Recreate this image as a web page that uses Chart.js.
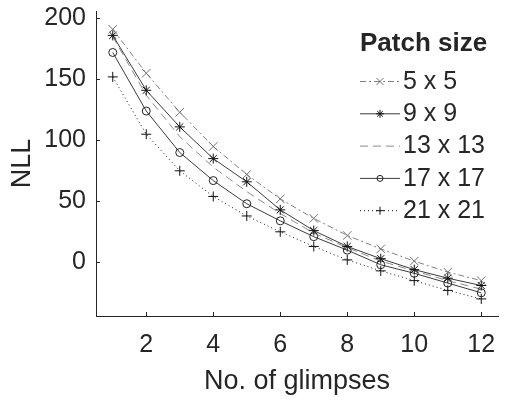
<!DOCTYPE html>
<html>
<head>
<meta charset="utf-8">
<script src="https://cdn.jsdelivr.net/npm/chart.js@4/dist/chart.umd.min.js"></script>
<style>
  body { margin: 0; background: #fff; }
  canvas { display: block; }
</style>
</head>
<body>
<canvas id="chart" width="505" height="403"></canvas>
<script>
// values
const glimpses = [1, 2, 3, 4, 5, 6, 7, 8, 9, 10, 11, 12];
const xTicks = [2, 4, 6, 8, 10, 12];
const yTicks = [0, 50, 100, 150, 200];
const patchSizes = ["5 x 5", "9 x 9", "13 x 13", "17 x 17", "21 x 21"];

const nll5 = [191, 155, 123, 95, 72, 52, 36, 22, 11, 1, -8, -15];
const nll9 = [186, 141, 111, 85, 66, 43, 26, 13, 3, -6, -13, -19];
const nll13 = [185, 137, 103, 78, 58, 40, 24, 12, 1, -7, -15, -22];
const nll17 = [172, 124, 90, 67, 48, 34, 21, 10, -2, -9, -17, -25];
const nll21 = [152, 105, 75, 54, 38, 25, 13, 2, -7, -15, -23, -30];

const TEXT = "#262626";
const FONT = "'Liberation Sans', Arial, Helvetica, sans-serif";

const toPoints = vals => glimpses.map((g, i) => ({ x: g, y: vals[i] }));

const styles = [
  { color: "#808080", dash: [6, 3, 2, 3], marker: "crossRot", radius: 6, markerColor: "#707070" },
  { color: "#3c3c3c", dash: [], marker: "star", radius: 5, markerColor: "#111" },
  { color: "#8a8a8a", dash: [8, 5], marker: false, radius: 0, markerColor: "#8a8a8a" },
  { color: "#3c3c3c", dash: [], marker: "circle", radius: 4, markerColor: "#222" },
  { color: "#1a1a1a", dash: [1, 3], marker: "cross", radius: 5, markerColor: "#111" }
];

const series = [nll5, nll9, nll13, nll17, nll21];

const datasets = series.map((vals, i) => ({
  label: patchSizes[i],
  data: toPoints(vals),
  borderColor: styles[i].color,
  borderWidth: 1,
  borderDash: styles[i].dash,
  backgroundColor: "rgba(0,0,0,0)",
  pointStyle: styles[i].marker,
  pointRadius: styles[i].radius,
  pointBorderColor: styles[i].markerColor,
  pointBorderWidth: 1,
  pointBackgroundColor: "rgba(0,0,0,0)",
  tension: 0,
  fill: false
}));

// MATLAB style tick marks pointing into the plot
const innerTicks = {
  id: "innerTicks",
  afterDraw(chart) {
    const { ctx, chartArea } = chart;
    const xs = chart.scales.x, ys = chart.scales.y;
    ctx.save();
    ctx.strokeStyle = TEXT;
    ctx.lineWidth = 1;
    ctx.beginPath();
    xs.ticks.forEach(t => {
      const px = Math.round(xs.getPixelForValue(t.value)) + 0.5;
      ctx.moveTo(px, chartArea.bottom);
      ctx.lineTo(px, chartArea.bottom - 4);
    });
    ys.ticks.forEach(t => {
      const py = Math.round(ys.getPixelForValue(t.value)) + 0.5;
      ctx.moveTo(chartArea.left, py);
      ctx.lineTo(chartArea.left + 4, py);
    });
    ctx.stroke();
    ctx.restore();
  }
};

// legend drawn inside the axes, line sample with marker in the middle
const insideLegend = {
  id: "insideLegend",
  afterDraw(chart, args, opts) {
    const { ctx } = chart;
    ctx.save();
    ctx.fillStyle = TEXT;
    ctx.textBaseline = "middle";
    ctx.font = "bold 26px " + FONT;
    ctx.textAlign = "left";
    ctx.fillText(opts.title, opts.titleX, opts.titleY);
    ctx.font = "25px " + FONT;
    chart.data.datasets.forEach((ds, i) => {
      const y = opts.y0 + i * opts.rowGap;
      ctx.save();
      ctx.strokeStyle = ds.borderColor;
      ctx.lineWidth = 1;
      ctx.setLineDash(ds.borderDash);
      ctx.beginPath();
      ctx.moveTo(opts.x0, y + 0.5);
      ctx.lineTo(opts.x0 + opts.sampleW, y + 0.5);
      ctx.stroke();
      ctx.restore();
      if (ds.pointStyle) {
        ctx.save();
        ctx.strokeStyle = ds.pointBorderColor;
        ctx.fillStyle = "rgba(0,0,0,0)";
        ctx.lineWidth = 1;
        Chart.helpers.drawPoint(ctx, {
          pointStyle: ds.pointStyle,
          radius: Math.max(3, ds.pointRadius - 1),
          rotation: 0,
          borderWidth: 1
        }, opts.x0 + opts.sampleW / 2, y + 0.5);
        ctx.restore();
      }
      ctx.fillStyle = TEXT;
      ctx.fillText(ds.label, opts.x0 + opts.sampleW + 3, y + 1);
    });
    ctx.restore();
  }
};

new Chart(document.getElementById("chart"), {
  type: "line",
  data: { datasets },
  plugins: [innerTicks, insideLegend],
  options: {
    responsive: false,
    animation: false,
    layout: { padding: { top: 11, left: 0, right: 0, bottom: 0 } },
    plugins: {
      legend: { display: false },
      tooltip: { enabled: false },
      insideLegend: {
        title: "Patch size",
        titleX: 360,
        titleY: 44,
        x0: 360,
        sampleW: 40,
        y0: 81,
        rowGap: 32.3
      }
    },
    scales: {
      x: {
        type: "linear",
        min: 0.5,
        max: 12.5,
        afterBuildTicks: scale => { scale.ticks = xTicks.map(v => ({ value: v })); },
        afterFit: scale => {
          scale.height = 87;
          scale.paddingLeft = 0;
          scale.paddingRight = 0;
        },
        grid: { display: true, drawOnChartArea: false, drawTicks: false },
        border: { display: true, color: TEXT, width: 1 },
        ticks: {
          color: TEXT,
          padding: 14,
          maxRotation: 0,
          font: { family: FONT, size: 25 }
        },
        title: {
          display: true,
          text: "No. of glimpses",
          color: TEXT,
          padding: { top: 0, bottom: 5 },
          font: { family: FONT, size: 27 }
        }
      },
      y: {
        type: "linear",
        min: -44,
        max: 206,
        afterBuildTicks: scale => { scale.ticks = yTicks.map(v => ({ value: v })); },
        afterFit: scale => {
          scale.width = 96;
          scale.paddingTop = 0;
          scale.paddingBottom = 0;
        },
        grid: { display: true, drawOnChartArea: false, drawTicks: false },
        border: { display: true, color: TEXT, width: 1 },
        ticks: {
          color: TEXT,
          padding: 10,
          font: { family: FONT, size: 25 }
        },
        title: {
          display: true,
          text: "NLL",
          color: TEXT,
          padding: { top: 6, bottom: 0 },
          font: { family: FONT, size: 27 }
        }
      }
    }
  }
});
</script>
</body>
</html>
